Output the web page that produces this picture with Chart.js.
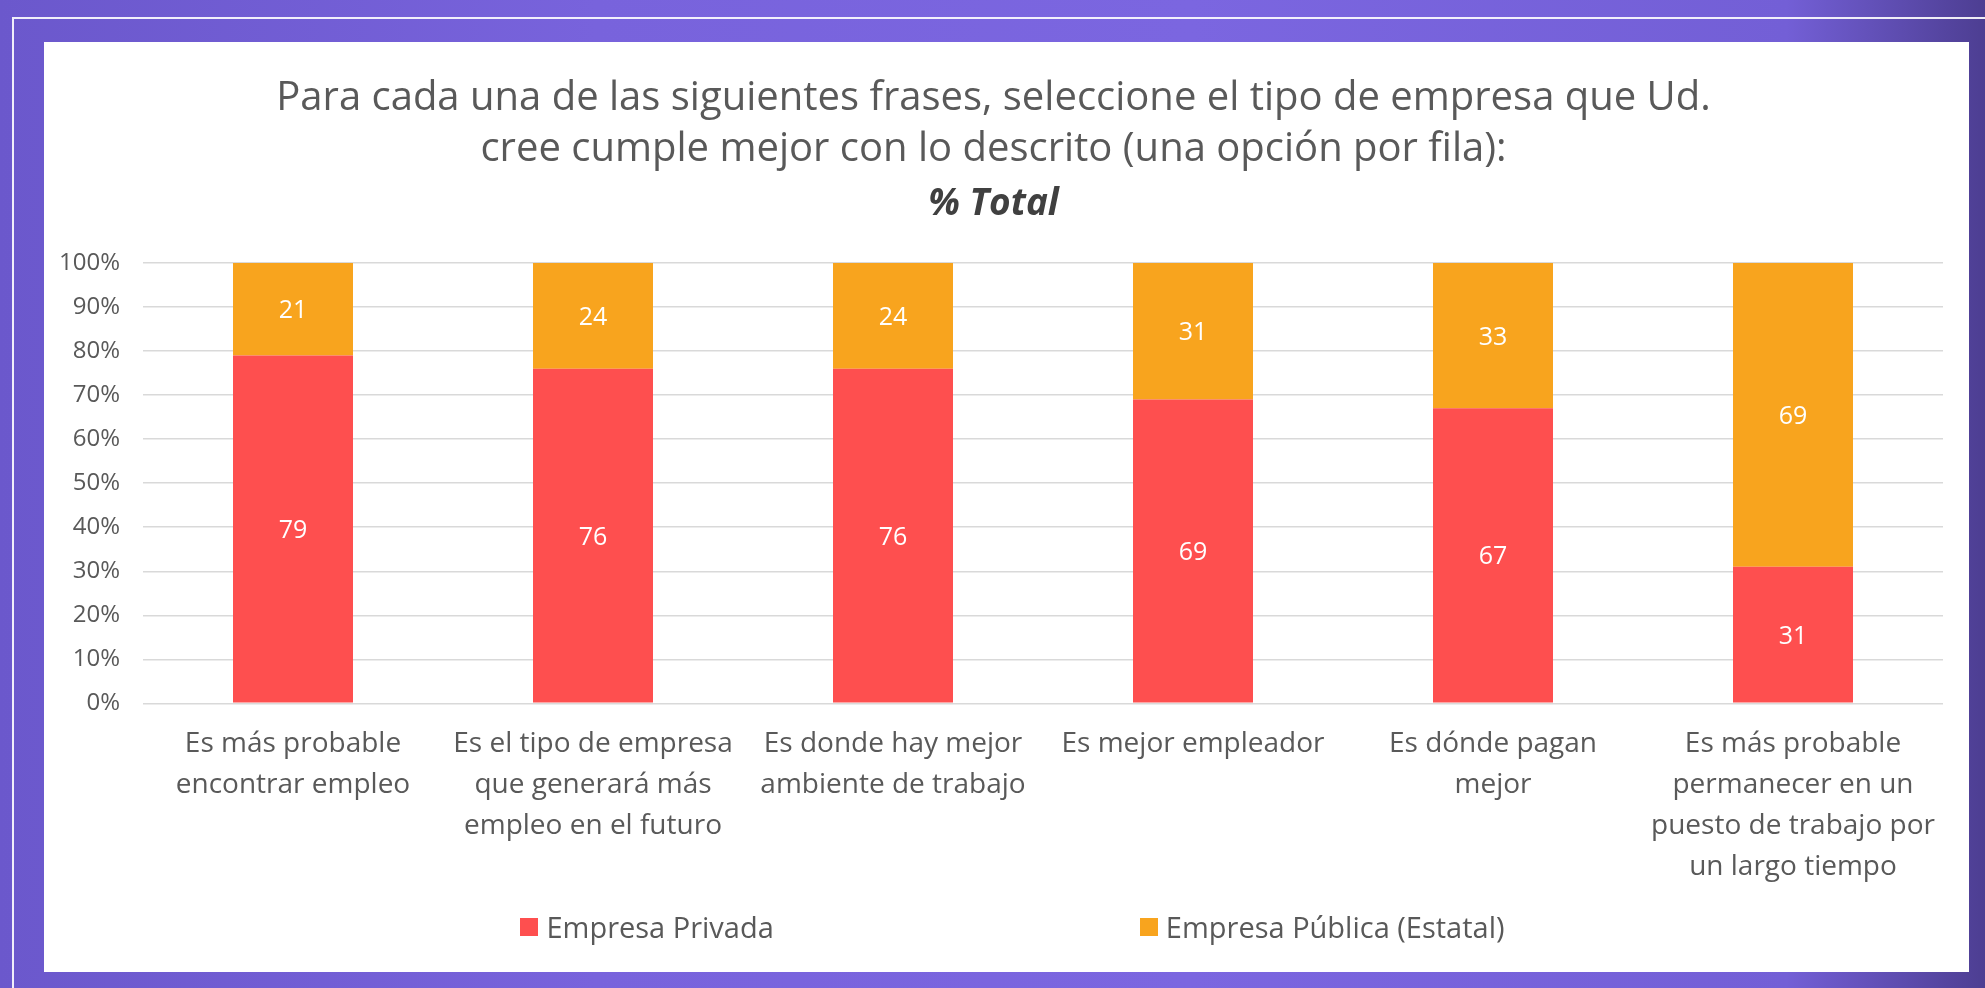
<!doctype html>
<html lang="es">

<head>
    <meta charset="utf-8">
    <title>Tipo de empresa - % Total</title>
    <style>
        * {
            margin: 0;
            padding: 0;
        }

        body {
            width: 1985px;
            height: 988px;
            overflow: hidden;
            position: relative;
            background: linear-gradient(90deg, #6b58cc 0%, #7863dc 30%, #7b66e0 60%, #735fd6 90%, #4d3e92 100%);
            font-family: "Open Sans", sans-serif;
        }

        .frame {
            position: absolute;
            left: 12px;
            top: 17px;
            right: -10px;
            bottom: -10px;
            border-top: 2px solid rgba(255, 255, 255, 0.9);
            border-left: 2px solid rgba(255, 255, 255, 0.9);
        }

        .chartCard {
            position: absolute;
            left: 44px;
            top: 42px;
            width: 1925px;
            height: 930px;
            background: #fff;
        }

        .chartBox {
            position: absolute;
            left: 0;
            top: 0;
            width: 1925px;
            height: 866px;
        }

        #legend {
            position: absolute;
            left: 0;
            top: 865px;
            width: 1925px;
            padding-left: 12px;
            box-sizing: border-box;
            display: flex;
            justify-content: center;
            gap: 366px;
            color: #595959;
            font-size: 29px;
        }

        #legend span.item {
            display: flex;
            align-items: center;
        }

        #legend span.swatch {
            display: inline-block;
            width: 18px;
            height: 18px;
            margin-right: 8px;
        }
    </style>
</head>

<body>
    <div class="frame"></div>
    <div class="chartCard">
        <div class="chartBox">
            <canvas id="myChart"></canvas>
        </div>
        <div id="legend"></div>
    </div>

    <script src="https://cdn.jsdelivr.net/npm/chart.js"></script>

    <script>
        const labels = [
            ['Es más probable', 'encontrar empleo'],
            ['Es el tipo de empresa', 'que generará más', 'empleo en el futuro'],
            ['Es donde hay mejor', 'ambiente de trabajo'],
            ['Es mejor empleador'],
            ['Es dónde pagan', 'mejor'],
            ['Es más probable', 'permanecer en un', 'puesto de trabajo por', 'un largo tiempo']
        ]

        const seriesNames = ['Empresa Privada', 'Empresa Pública (Estatal)']
        const privada = [79, 76, 76, 69, 67, 31]
        const publica = [21, 24, 24, 31, 33, 69]
        const colors = ['#fe4f4f', '#f8a41e']

        const yTicks = [0, 10, 20, 30, 40, 50, 60, 70, 80, 90, 100]

        Chart.defaults.font.family = '"Open Sans", sans-serif'
        Chart.defaults.color = '#595959'

        // white numbers in the middle of each segment
        const valueLabels = {
            id: 'valueLabels',
            afterDatasetsDraw(chart) {
                const ctx = chart.ctx
                const size = 25
                ctx.save()
                ctx.font = size + 'px "Open Sans", sans-serif'
                ctx.fillStyle = '#ffffff'
                ctx.textAlign = 'center'
                ctx.textBaseline = 'alphabetic'
                chart.data.datasets.forEach((ds, i) => {
                    chart.getDatasetMeta(i).data.forEach((bar, j) => {
                        const p = bar.getCenterPoint()
                        // digits sit on the baseline, so push down by half the cap height
                        ctx.fillText(ds.data[j], p.x, p.y + size * 0.36)
                    })
                })
                ctx.restore()
            }
        }

        // legend built from the datasets, placed under the chart
        const htmlLegend = {
            id: 'htmlLegend',
            afterUpdate(chart) {
                const box = document.getElementById('legend')
                box.innerHTML = ''
                chart.data.datasets.forEach(ds => {
                    const item = document.createElement('span')
                    item.className = 'item'
                    const sw = document.createElement('span')
                    sw.className = 'swatch'
                    sw.style.background = ds.backgroundColor
                    item.appendChild(sw)
                    item.appendChild(document.createTextNode(ds.label))
                    box.appendChild(item)
                })
            }
        }

        const data = {
            labels: labels,
            datasets: [privada, publica].map((values, index) => {
                return {
                    label: seriesNames[index],
                    data: values,
                    backgroundColor: colors[index],
                    borderWidth: 0,
                    barPercentage: 0.4,
                    categoryPercentage: 1.0
                }
            })
        }

        const config = {
            type: 'bar',
            data: data,
            options: {
                responsive: true,
                maintainAspectRatio: false,
                animation: false,
                layout: {
                    padding: { left: 0, right: 26, top: 0, bottom: 0 }
                },
                plugins: {
                    legend: { display: false },
                    tooltip: { enabled: false },
                    title: {
                        display: true,
                        text: [
                            'Para cada una de las siguientes frases, seleccione el tipo de empresa que Ud.',
                            'cree cumple mejor con lo descrito (una opción por fila):'
                        ],
                        color: '#595959',
                        font: { size: 40, weight: 'normal', lineHeight: 1.27 },
                        padding: { top: 31, bottom: 0 }
                    },
                    subtitle: {
                        display: true,
                        text: '% Total',
                        color: '#404040',
                        font: { size: 37, weight: 'bold', style: 'italic', lineHeight: 1.2 },
                        padding: { top: 7.5, bottom: 36.5 }
                    }
                },
                scales: {
                    x: {
                        stacked: true,
                        grid: { display: false, drawTicks: false },
                        border: { display: false },
                        ticks: {
                            maxRotation: 0,
                            autoSkip: false,
                            padding: 20,
                            color: '#595959',
                            font: { size: 28, lineHeight: 1.47 }
                        }
                    },
                    y: {
                        stacked: true,
                        min: 0,
                        max: 100,
                        afterFit(axis) {
                            axis.width = 99
                        },
                        afterBuildTicks(axis) {
                            axis.ticks = yTicks.map(v => ({ value: v }))
                        },
                        grid: { color: '#d9d9d9', lineWidth: 1.5, drawTicks: false },
                        border: { display: false },
                        ticks: {
                            padding: 23,
                            color: '#595959',
                            font: { size: 24 },
                            callback: function (value) {
                                return value + '%'
                            }
                        }
                    }
                }
            },
            plugins: [valueLabels, htmlLegend]
        }

        const myChart = new Chart(
            document.getElementById('myChart'),
            config
        )
    </script>
</body>

</html>
